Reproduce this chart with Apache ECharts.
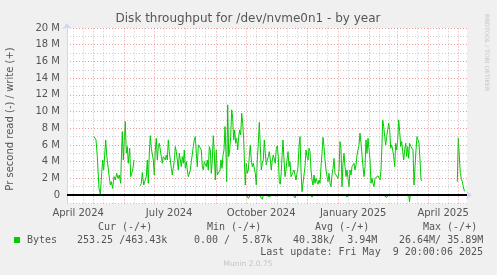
<!DOCTYPE html>
<html><head><meta charset="utf-8">
<script src="https://cdn.jsdelivr.net/npm/echarts@6/dist/echarts.min.js"></script>
<style>html,body{margin:0;padding:0;background:#F0F0F0;}#c{width:497px;height:275px;}</style>
</head><body><div id="c"></div>
<script>
// ---------- data ----------
const chartTitle = 'Disk throughput for /dev/nvme0n1 - by year';
const yAxisTitle = 'Pr second read (-) / write (+)';
const rangeStart = [2024, 3, 4, 20];   // UTC, 400 days before last update
const rangeEnd = [2025, 4, 9, 20];
const xLabelText = ['April 2024', 'July 2024', 'October 2024', 'January 2025', 'April 2025'];
const xLabelDate = [[2024, 3, 16], [2024, 6, 16], [2024, 9, 16], [2025, 0, 16], [2025, 3, 16]];
const yMin = -1, yMax = 20; // in M

// write (+) : days since range start, values in M bytes/s (null = no data)
const writeDays = [
 27,29,30.3,32,33.3,34.7,35.7,36.7,37.7,38.7,39.7,41,42,43.3,44.3,45.7,47,48.3,49.7,51,52.3,53.7,54.3,55.3,56.3,57.3,58.3,59.3,60.3,61.3,62.7,63.7,64.7,65.7,67,
 70,
 73.3,74.3,75.3,76.7,78,79.3,80.3,81.3,82.3,83.3,84.3,85.3,86.3,87.3,88.3,89.3,90.3,91.3,92.3,93.3,94.3,95.3,96.3,97.3,98.3,99.3,100.3,101.3,102.3,103.3,104.3,105.3,106.3,107.3,108.3,109.3,110.3,111.3,112.3,113.3,114.3,115.3,116.3,117.3,118.3,119.3,120.3,121.3,122.3,123.3,124.3,125.3,126.3,127.3,128.3,129.3,130.3,131.3,132.3,133.3,134.3,135.3,136.3,137.3,138.3,139.3,140.3,141.3,142.3,143.3,144.3,145.3,146.3,147.3,148.3,149.3,150.3,151.7,153,154,155,156,157,158,159,159.7,160.7,161.7,162.7,163.7,164.7,165.7,166.7,167.7,168.7,169.7,170.7,171.7,172.7,173.7,174.7,175.7,176.7,177.7,178.3,179.3,180.3,181.3,182.3,183.3,184.3,185.3,186.3,187.3,188.3,189.3,190.3,191.3,192.3,193.3,194.3,195.3,196.3,197.3,198.3,199.3,200.3,201.3,202.3,203.3,204.3,205.3,206.3,207.3,208.3,209.3,210.3,211.3,212.3,213.3,214.3,215,216,217,218,219,220,221,222,223,224,225,226,227,228,229,230,231,232,233,234,235,236,237,238,239,240,241,242,243,244,245,246,247,248,249,250,251,252,253,254,255,256,257,258,259,260,261,262,263,264,265,266,267,268,269,270,271,272,273,274,275,276,277,278,279,280,281,282,283,284,285,286,287,288,289,290,291,292,293,294,295,296,297,298,299,300,301,302,303,304,305,306,307,308,309,310,311,312,313,314,315,315.7,316.7,317.7,318.7,319.7,320.7,321.7,322.7,323.7,324.7,325.7,326.7,327.7,328.7,329.7,330.7,331.7,332.7,333.7,334.7,335.7,336.7,337.7,338.7,339.7,340.7,341.7,342.5,343.3,344,345,346,347,348,349,350,351,352,353,354,355,
 372,
 390.3,391.3,392.3,393.3,394.3,395.3,396.3,397.3,398.3
];
const writeM = [
 7.0,6.6,4.6,0.8,0.1,2.6,4.2,3.0,4.8,6.6,4.8,5.0,2.4,1.2,1.6,0.8,2.2,1.8,2.6,2.0,2.4,1.4,4.2,7.6,4.2,6.6,8.8,5.0,5.8,3.8,5.6,2.2,2.0,3.0,4.2,
 null,
 1.1,1.4,2.7,1.2,1.2,2.2,4.2,1.4,5.0,7.1,5.6,5.4,4.2,2.4,5.4,6.8,4.2,5.8,6.2,5.4,4.6,3.8,4.6,4.4,4.2,4.8,4.2,6.6,5.2,4.2,3.2,2.4,2.2,4.2,5.8,5.2,4.2,3.0,5.0,4.2,3.4,4.6,3.8,5.4,3.2,4.0,3.0,2.2,2.0,3.0,4.0,4.2,5.8,6.6,7.0,5.0,3.4,6.0,6.2,6.0,5.4,3.4,3.0,4.0,3.8,3.4,4.2,3.0,5.8,5.4,2.6,4.2,7.1,5.0,1.8,5.4,2.4,2.4,3.0,4.2,3.2,4.8,5.4,8.2,5.0,1.6,10.8,4.6,5.4,7.0,10.2,9.2,6.6,7.8,6.2,6.8,5.4,7.0,7.8,7.2,9.8,8.6,6.6,3.0,1.2,3.8,2.6,3.0,4.6,6.0,4.2,3.4,3.8,3.8,2.6,1.2,4.2,6.2,8.7,5.8,3.0,3.8,4.2,6.6,5.0,3.6,4.2,4.6,5.2,4.2,3.0,4.2,4.8,5.0,3.8,5.6,5.9,4.6,1.6,1.3,2.8,4.6,6.6,4.2,2.2,3.0,4.2,5.2,3.4,4.0,2.2,2.0,2.4,3.0,3.2,1.8,2.6,3.4,5.8,7.0,3.0,0.4,0.2,0.6,3.4,5.4,4.6,4.2,5.6,5.2,3.0,1.8,1.2,2.4,1.4,2.0,1.6,1.3,1.8,1.4,3.4,5.0,6.9,5.8,4.2,3.0,2.2,1.6,2.6,1.4,1.0,2.4,3.2,4.4,2.6,2.4,2.8,2.0,3.0,6.4,5.6,1.0,3.8,5.0,3.4,2.2,3.0,2.0,1.0,3.0,2.4,3.4,3.4,3.8,3.0,3.6,4.8,5.0,6.0,7.4,6.2,4.8,3.4,2.2,3.4,6.6,5.0,6.8,7.0,4.2,1.4,2.0,1.4,1.0,2.0,2.2,2.0,2.3,2.1,1.8,3.0,6.2,9.0,8.2,7.0,6.0,7.0,7.8,8.6,7.8,5.6,6.0,5.4,4.6,3.4,6.2,5.4,6.6,9.0,7.6,5.8,6.4,5.2,4.2,5.4,6.2,4.6,5.8,4.4,6.2,6.4,5.8,6.0,5.4,1.2,3.4,5.4,7.0,7.1,6.2,4.2,1.8,1.7,
 null,
 1.6,6.8,6.6,2.6,2.0,1.6,1.0,0.5,0.5
];
// read (-) : only the visible dips, all other days read ~0
const readDays = [104.3,128.3,181.3,182.3,195.3,202.3,208.3,219,228,245,262,275,280,295,319.7,334.7,342.5,351,394.3];
const readM    = [0.15,0.15,0.4,0.3,0.5,0.2,0.1,0.2,0.35,0.25,0.2,0.2,0.25,0.15,0.3,0.2,0.8,0.1,0.1];

// legend texts
const legendHead = ['Cur (-/+)', 'Min (-/+)', 'Avg (-/+)', 'Max (-/+)'];
const legendName = 'Bytes';
const legendVals = ['253.25 /463.43k', '0.00 /  5.87k', '40.38k/  3.94M', '26.64M/ 35.89M'];
const lastUpdate = 'Last update: Fri May  9 20:00:06 2025';
const footer = 'Munin 2.0.75';
const sideText = 'RRDTOOL / TOBI OETIKER';

// ---------- derived ----------
const DAY = 86400000;
const t0 = Date.UTC(...rangeStart);
const spanDays = (Date.UTC(...rangeEnd) - t0) / DAY;
const dayOf = (y, m, d) => (Date.UTC(y, m, d) - t0) / DAY;
const monthStarts = [], minorDays = [];
for (let y = 2024, m = 3; y < 2026; ) {
  const ms = dayOf(y, m, 1);
  if (ms > spanDays) break;
  if (ms >= 0) monthStarts.push(ms);
  [11, 21].forEach(d => { const v = dayOf(y, m, d); if (v >= 0 && v <= spanDays) minorDays.push(v); });
  m++; if (m > 11) { m = 0; y++; }
}
const labelDays = xLabelDate.map(a => dayOf(a[0], a[1], a[2]));

const writeData = writeDays.map((d, i) => [d, writeM[i] === null ? '-' : writeM[i]]);
const readData = writeDays.map((d, i) => {
  if (writeM[i] === null) return [d, '-'];
  const k = readDays.findIndex(r => Math.abs(r - d) < 0.2);
  return [d, k >= 0 ? -readM[k] : 0];
});

const GREEN = '#00CC00', TXT = '#555555', MONO = '"DejaVu Sans Mono", monospace', SANS = '"DejaVu Sans", sans-serif';
const MAJ = 'rgba(230,120,120,0.75)', MIN = 'rgba(170,170,170,0.6)';

const gridLines = monthStarts.map(v => ({ xAxis: v, lineStyle: { color: MAJ, type: [1, 2], width: 1 } }))
  .concat(minorDays.map(v => ({ xAxis: v, lineStyle: { color: MIN, type: [1, 2], width: 1 } })));

const legendGraphics = [];
const headX = [98, 207, 315, 423];
legendHead.forEach((t, i) => legendGraphics.push({ type: 'text', x: headX[i], y: 227, style: { text: t, font: '10px ' + MONO, fill: TXT, textVerticalAlign: 'middle' } }));
const valX = [77, 194, 293, 399];
legendVals.forEach((t, i) => legendGraphics.push({ type: 'text', x: valX[i], y: 240, style: { text: t, font: '10px ' + MONO, fill: TXT, textVerticalAlign: 'middle' } }));

const chart = echarts.init(document.getElementById('c'), null, { renderer: 'canvas' });
chart.setOption({
  backgroundColor: '#F0F0F0',
  animation: false,
  grid: { left: 67, right: 30, top: 28, bottom: 71.6, backgroundColor: '#FFFFFF', show: true, borderWidth: 0 },
  xAxis: {
    type: 'value', min: 0, max: spanDays,
    axisLine: { lineStyle: { color: '#CFD6F8', width: 1 }, symbol: ['none', 'arrow'], symbolSize: [7, 6], symbolOffset: [0, 5] },
    axisTick: { show: false },
    splitLine: { show: false },
    axisLabel: {
      customValues: labelDays, margin: 5, color: TXT, fontFamily: SANS, fontSize: 10,
      formatter: v => { const k = labelDays.findIndex(d => Math.abs(d - v) < 0.01); return k >= 0 ? xLabelText[k] : ''; }
    }
  },
  yAxis: {
    type: 'value', min: yMin, max: yMax, interval: 1,
    axisLine: { show: true, lineStyle: { color: '#CFD6F8', width: 1 }, symbol: ['none', 'arrow'], symbolSize: [7, 6], symbolOffset: [0, 5] },
    axisTick: { show: false },
    splitLine: { show: true, lineStyle: { color: [MIN, MAJ], type: [1, 2], width: 1 } },
    axisLabel: {
      margin: 7, color: TXT, fontFamily: SANS, fontSize: 10,
      formatter: v => (v >= 0 && v % 2 === 0) ? (v === 0 ? '0' : v + ' M') : ''
    }
  },
  graphic: [
    { type: 'text', x: 248, y: 19, style: { text: chartTitle, font: '12px ' + SANS, fill: TXT, textAlign: 'center', textVerticalAlign: 'middle' } },
    { type: 'text', x: 10, y: 119, rotation: Math.PI / 2, style: { text: yAxisTitle, font: '10px ' + SANS, fill: TXT, textAlign: 'center', textVerticalAlign: 'middle' } },
    { type: 'text', x: 487, y: 14, rotation: -Math.PI / 2, style: { text: sideText, font: '6px ' + SANS, fill: '#C8C8C8', textAlign: 'left', textVerticalAlign: 'middle' } },
    { type: 'rect', shape: { x: 14, y: 237, width: 6, height: 6 }, style: { fill: GREEN } },
    { type: 'text', x: 27, y: 240, style: { text: legendName, font: '10px ' + MONO, fill: TXT, textVerticalAlign: 'middle' } },
    { type: 'text', x: 483, y: 252, style: { text: lastUpdate, font: '10px ' + MONO, fill: TXT, textAlign: 'right', textVerticalAlign: 'middle' } },
    { type: 'text', x: 248, y: 264, style: { text: footer, font: '7.5px ' + SANS, fill: '#C4C4C4', textAlign: 'center', textVerticalAlign: 'middle' } }
  ].concat(legendGraphics),
  series: [
    { type: 'line', data: [], silent: true, z: 1,
      markLine: { silent: true, symbol: 'none', label: { show: false }, animation: false, data: gridLines } },
    { type: 'line', name: 'read', data: readData, showSymbol: false, connectNulls: false, z: 3,
      lineStyle: { color: GREEN, width: 1 }, itemStyle: { color: GREEN } },
    { type: 'line', name: 'write', data: writeData, showSymbol: false, connectNulls: false, z: 3,
      lineStyle: { color: GREEN, width: 1 }, itemStyle: { color: GREEN } },
    { type: 'line', data: [], silent: true, z: 5,
      markLine: { silent: true, symbol: 'none', label: { show: false }, animation: false,
        data: [{ yAxis: 0, lineStyle: { color: '#000000', type: 'solid', width: 2 } }] } }
  ]
});
</script></body></html>
